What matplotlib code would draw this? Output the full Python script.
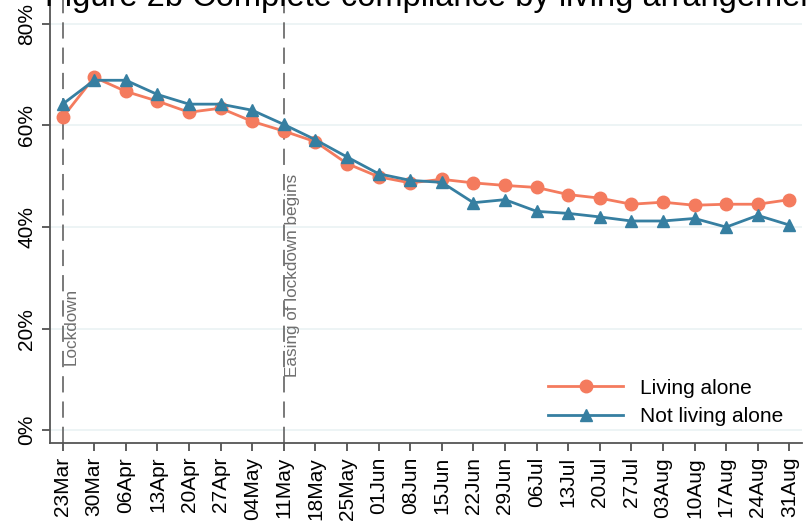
import matplotlib
matplotlib.use("Agg")
import matplotlib.pyplot as plt

plt.rcParams["font.family"] = ["Liberation Sans", "DejaVu Sans"]

# semanas (início de cada semana)
weeks = ["23Mar", "30Mar", "06Apr", "13Apr", "20Apr", "27Apr", "04May", "11May",
         "18May", "25May", "01Jun", "08Jun", "15Jun", "22Jun", "29Jun", "06Jul",
         "13Jul", "20Jul", "27Jul", "03Aug", "10Aug", "17Aug", "24Aug", "31Aug"]

living_alone = [61.6, 69.5, 66.7, 64.8, 62.6, 63.4, 60.8, 58.9,
                56.8, 52.5, 49.9, 48.7, 49.4, 48.7, 48.2, 47.8,
                46.4, 45.7, 44.5, 44.9, 44.3, 44.5, 44.5, 45.4]

not_living_alone = [64.2, 68.9, 68.9, 66.1, 64.2, 64.2, 63.0, 60.2,
                    57.2, 53.8, 50.5, 49.2, 48.8, 44.8, 45.4, 43.1,
                    42.7, 42.0, 41.2, 41.2, 41.7, 40.0, 42.3, 40.4]

events = ["23Mar", "11May"]
event_labels = ["Lockdown", "Easing of lockdown begins"]
event_label_y = [12.8, 10.4]

y_ticks = [0, 20, 40, 60, 80]

orange = "#F47B5E"
blue = "#367FA1"

fig = plt.figure(figsize=(8.12, 5.24), dpi=100)
ax = fig.add_axes([50 / 812, (524 - 443) / 524, (802 - 50) / 812, 443 / 524])

x = list(range(len(weeks)))

for d, lab, ly in zip(events, event_labels, event_label_y):
    xi = weeks.index(d)
    ax.axvline(xi, color="#6E6E6E", lw=1.3, ls=(0, (9, 5)), zorder=1)
    ax.text(xi + 0.04, ly, lab, rotation=90, va="bottom", ha="left",
            fontsize=12.3, color="#6E6E6E")

ax.plot(x, living_alone, color=orange, lw=2, marker="o", ms=9,
        label="Living alone", zorder=3)
ax.plot(x, not_living_alone, color=blue, lw=2, marker="^", ms=8.5,
        label="Not living alone", zorder=4)

ax.set_yticks(y_ticks)
ax.set_yticklabels([f"{v}%" for v in y_ticks], rotation=90, va="center", fontsize=15)
ax.set_xticks(x)
ax.set_xticklabels(weeks, rotation=90, fontsize=15)
ax.set_xlim(-0.4, len(weeks) - 1 + 0.4)
ax.set_ylim(-2.5, 84.7)

ax.grid(axis="y", color="#EAF2F3", lw=1.2)
ax.set_axisbelow(True)
for s in ["top", "right"]:
    ax.spines[s].set_visible(False)
for s in ["left", "bottom"]:
    ax.spines[s].set_color("#555555")
    ax.spines[s].set_linewidth(1.3)
ax.tick_params(axis="both", length=6, width=1.1, color="#333333", pad=4)

ax.legend(loc="lower right", bbox_to_anchor=(1.0, -0.004), frameon=False,
          fontsize=15, handlelength=3.6, labelspacing=0.45)

fig.text(45 / 812, 1 - 6 / 524, "Figure 2b Complete compliance by living arrangement",
         fontsize=23.5, ha="left", va="baseline")

fig.savefig("out.png", dpi=100)
